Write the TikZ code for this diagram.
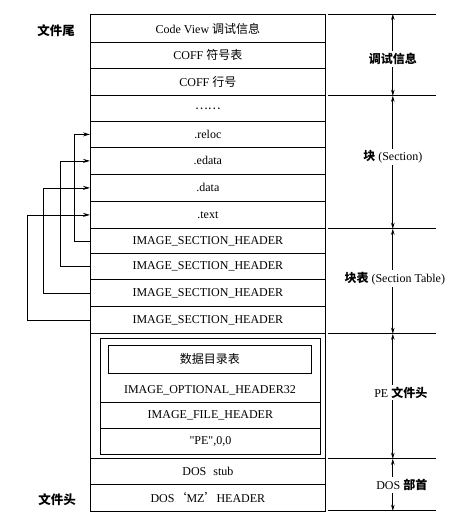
\documentclass[tikz,border=0pt]{standalone}
\usepackage{fontspec}
\setmainfont{Liberation Serif}
\newfontfamily\rawserif{Liberation Serif}[Ligatures=TeXOff]
\newfontfamily\cjk{Noto Sans CJK SC}
\usetikzlibrary{arrows.meta}
\begin{document}
\begin{tikzpicture}[x=1pt,y=-1pt,
  font=\fontsize{12}{14}\selectfont,
  row/.style={draw, line width=0.8pt, minimum width=235pt, inner sep=0pt, anchor=north west},
  inrow/.style={draw, line width=0.8pt, minimum width=220pt, inner sep=0pt, anchor=north west},
  side/.style={font=\fontsize{12.5}{14}\selectfont\cjk\bfseries},
  lbl/.style={fill=white, inner sep=2pt},
  larrow/.style={line width=0.8pt, -{Stealth[length=7pt,width=4pt]}},
  darrow/.style={line width=0.7pt, {Stealth[length=6pt,width=3.5pt]}-{Stealth[length=6pt,width=3.5pt]}},
  hline/.style={line width=0.8pt}]
\useasboundingbox (0,0) rectangle (470,527);

% main rows
\node[row, minimum height=28pt] (r1) at (90,14) {Code View {\cjk 调试信息}};
\node[row, minimum height=26pt] (r2) at (90,42) {COFF {\cjk 符号表}};
\node[row, minimum height=27pt] (r3) at (90,68) {COFF {\cjk 行号}};
\node[row, minimum height=26pt] (r4) at (90,95) {{\cjk ……}};
\node[row, minimum height=26pt] (r5) at (90,121) {.reloc};
\node[row, minimum height=27pt] (r6) at (90,147) {.edata};
\node[row, minimum height=27pt] (r7) at (90,174) {.data};
\node[row, minimum height=27pt] (r8) at (90,201) {.text};
\node[row, minimum height=25pt] (r9) at (90,228) {IMAGE\_SECTION\_HEADER};
\node[row, minimum height=26pt] (r10) at (90,253) {IMAGE\_SECTION\_HEADER};
\node[row, minimum height=27pt] (r11) at (90,279) {IMAGE\_SECTION\_HEADER};
\node[row, minimum height=27pt] (r12) at (90,306) {IMAGE\_SECTION\_HEADER};
\node[row, minimum height=125pt] (pe) at (90,333) {};
\node[row, minimum height=26pt] (stub) at (90,458) {DOS\hspace{4pt} stub};
\node[row, minimum height=27pt] (mz) at (90,484) {DOS{\cjk ‘}MZ{\cjk ’}HEADER};

% PE header inner parts
\node[inrow, minimum height=116pt] (inner) at (100,338) {};
\node[draw, line width=0.8pt, minimum width=203pt, minimum height=28pt, inner sep=0pt, anchor=north west] (dd) at (108,345) {{\cjk 数据目录表}};
\node (ioh) at (210,390) {IMAGE\_OPTIONAL\_HEADER32};
\node[inrow, minimum height=26pt] (ifh) at (100,402) {IMAGE\_FILE\_HEADER};
\node[inrow, minimum height=26pt] (pesig) at (100,428) {{\rawserif "PE",0,0}};

% side labels
\node[side] (tail) at (56,31) {文件尾};
\node[side] (head) at (57,500) {文件头};

% section header pointers
\draw[larrow] (r9.west) -- ++(-16,0) |- (r5.west);
\draw[larrow] (r10.west) -- ++(-30,0) |- (r6.west);
\draw[larrow] (r11.west) -- ++(-47,0) |- (r7.west);
\draw[larrow] (r12.west) -- ++(-63,0) |- (r8.west);

% right-side division lines
\draw[hline] ([xshift=2pt]r1.north east) -- ++(108,0);
\draw[hline] ([xshift=2pt]r3.south east) -- ++(108,0);
\draw[hline] ([xshift=2pt]r8.south east) -- ++(108,0);
\draw[hline] ([xshift=2pt]r12.south east) -- ++(108,0);
\draw[hline] ([xshift=2pt]pe.south east) -- ++(108,0);
\draw[hline] ([xshift=2pt,yshift=1pt]mz.south east) -- ++(108,0);

\coordinate (a0) at ([xshift=67pt]r1.north east);
\coordinate (a1) at ([xshift=67pt]r3.south east);
\coordinate (a2) at ([xshift=67pt]r8.south east);
\coordinate (a3) at ([xshift=67pt]r12.south east);
\coordinate (a4) at ([xshift=67pt]pe.south east);
\coordinate (a5) at ([xshift=67pt,yshift=1pt]mz.south east);

\draw[darrow] (a0) -- (a1) node[pos=0.55, lbl] (l1) {{\cjk\bfseries 调试信息}};
\draw[darrow] (a1) -- (a2) node[pos=0.46, lbl] (l2) {{\cjk\bfseries 块} (Section)};
\draw[darrow] (a2) -- (a3) node[pos=0.47, lbl, xshift=2pt] (l3) {{\cjk\bfseries 块表} (Section Table)};
\draw[darrow] (a3) -- (a4) node[pos=0.47, lbl, xshift=8pt] (l4) {PE {\cjk\bfseries 文件头}};
\draw[darrow] (a4) -- (a5) node[pos=0.5, lbl, xshift=9pt] (l5) {DOS {\cjk\bfseries 部首}};
\end{tikzpicture}
\end{document}
